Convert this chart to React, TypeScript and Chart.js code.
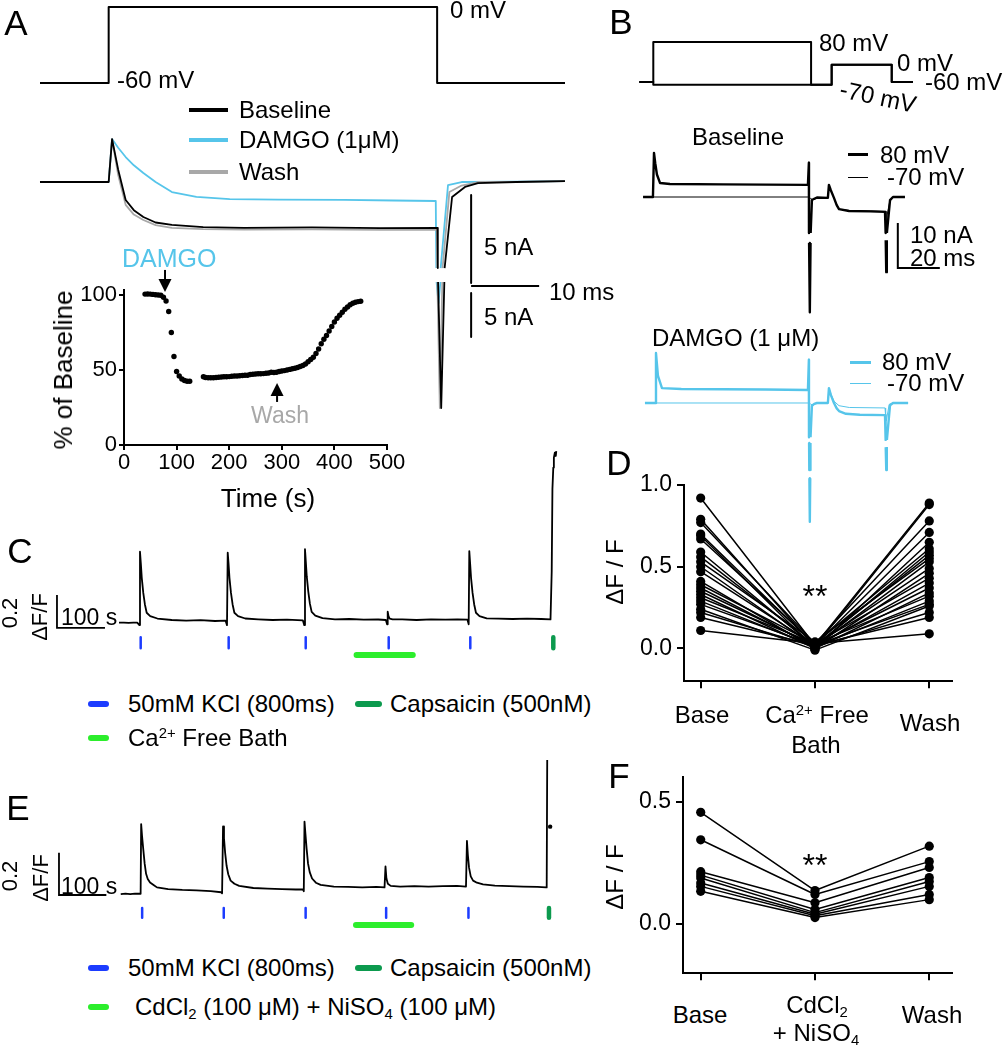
import React, { useEffect, useRef } from "react";
import { Chart, registerables } from "chart.js";

Chart.register(...registerables);

const FONT = "'Liberation Sans', Arial, Helvetica, sans-serif";
Chart.defaults.font.family = FONT;
Chart.defaults.color = "#000";

// ---------------- colours ----------------
const BLACK = "#000000";
const CYAN = "#56c5ea";
const GRAY = "#a8a8a8";
const BLUE = "#1c3cff";
const DKGREEN = "#0c9a4e";
const LTGREEN = "#2cee2c";

// ---------------- Panel A : voltage step (ms, mV) ----------------
const aStepTime = [0, 10.1, 10.1, 58.4, 58.4, 77.2];
const aStepMv = [-60, -60, 0, 0, -60, -60];

// ---------------- Panel A : currents (ms, nA) ----------------
const aBaseT = [0, 10.1, 10.6, 11.5, 12.6, 13.8, 15.2, 17, 19.4, 24, 30, 40, 50, 58.45, 58.5, 58.52, 58.54, 59.0, 59.46, 59.48, 59.5, 60.6, 62.5, 64.4, 70, 77.2];
const aBaseI = [0, 0, 2.44, 0.7, -1.02, -1.6, -1.99, -2.3, -2.44, -2.56, -2.6, -2.58, -2.62, -2.6, -4.89, null, -5.68, -12.84, -5.68, null, -4.89, -0.85, -0.28, -0.06, 0, 0.05];
const aWashT = [0, 10.1, 10.6, 11.5, 12.6, 13.8, 15.2, 17, 19.4, 24, 30, 40, 50, 58.35, 58.4, 58.42, 58.44, 58.8, 59.16, 59.18, 59.2, 60.2, 62, 64.4, 70, 77.2];
const aWashI = [0, 0, 2.44, 0.4, -1.3, -1.85, -2.16, -2.45, -2.61, -2.68, -2.7, -2.69, -2.72, -2.7, -4.89, null, -5.68, -12.84, -5.68, null, -4.89, -0.57, -0.2, 0, 0, 0.05];
const aDamgoT = [0, 10.1, 10.6, 11.5, 12.6, 13.8, 15.2, 17, 19.4, 23, 27.9, 35, 44.7, 52, 58.2, 58.28, 58.3, 58.32, 58.6, 58.88, 58.9, 58.92, 60.0, 62, 70, 77.2];
const aDamgoI = [0, 0, 2.44, 1.95, 1.42, 0.95, 0.51, 0.0, -0.57, -0.85, -0.97, -1.0, -1.02, -1.05, -1.08, -4.89, null, -5.68, -6.88, -5.68, null, -4.89, -0.17, 0, 0.02, 0.05];
const aScaleBar = { t0: 63.4, dt: 10, top: -0.74, dI: 5, hLevel: -5.91, lowTop: -6.31, lowDI: 2.5 };

// ---------------- Panel A inset : % of baseline vs time (s) ----------------
const insetTime = [40, 45, 50, 55, 60, 65, 70, 75, 80, 85, 90, 95, 100, 105, 110, 115, 120, 125,
  151, 155, 160, 165, 170, 175, 180, 185, 190, 195, 200, 205, 210, 215, 220, 225, 230, 235, 240, 245, 250,
  255, 260, 265, 270, 275, 280, 285, 290, 295, 300, 305, 310, 315, 320, 325, 330, 335, 340, 345, 350, 355,
  360, 365, 370, 375, 380, 385, 390, 395, 400, 405, 410, 415, 420, 425, 430, 435, 440, 445, 450];
const insetPct = [100.6, 100.7, 100.6, 100.4, 100.2, 100, 99.8, 98.5, 96, 89, 75, 59, 49, 46, 44, 43, 42.5, 42.5,
  45.5, 45, 44.8, 44.8, 44.8, 45, 45.2, 45.3, 45.5, 45.5, 45.6, 45.8, 46, 46, 46.2, 46.3, 46.5, 46.5, 47, 47.2, 47.3,
  47.5, 47.5, 47.6, 47.8, 48, 48.5, 48.3, 48.5, 49, 49.3, 49.6, 50, 50.4, 50.8, 51.2, 51.7, 52.3, 53, 54, 55.5, 57,
  58.5, 61, 64, 67.5, 70.5, 73, 76, 79, 82, 84.5, 86.5, 88.5, 90.5, 92, 93.5, 94.5, 95.2, 95.6, 95.8];
const insetXTicks = [0, 100, 200, 300, 400, 500];
const insetYTicks = [0, 50, 100];
const insetArrowT = [78, 291];
const insetArrowFrom = [116.7, 28.7];
const insetArrowTo = [102, 41.3];

// ---------------- Panel B : protocol (ms, mV) ----------------
const bProtoT = [0, 6.67, 6.67, 81.8, 81.8, 91.6, 91.6, 120.2, 120.2, 130.3];
const bProto80 = [-60, -60, 80, 80, -70, -70, 0, 0, -60, -60];
const bProtoM70 = [-60, -60, -70, -70, -70, -70, 0, 0, -60, -60];

// ---------------- Panel B : baseline currents (ms, nA) ----------------
const bThickT = [1.8, 6.5, 7.0, 7.6, 8.4, 9.9, 14.6, 40, 80.3, 80.75, 80.8, 80.82, 80.85, 81.2, 81.55, 81.58, 81.6, 82.2, 83.3, 84.6, 89.8, 90.3, 91.2, 92.7, 94, 95.1, 99.9, 110, 117.0, 117.3, 117.32, 117.34, 117.6, 117.86, 117.88, 117.9, 119.4, 120.8, 126.5];
const bThickI = [0, 0, 9.8, 7.5, 5.0, 3.1, 2.9, 2.8, 2.7, 7.6, -8.0, null, -10.2, -25.6, -10.2, null, -8.0, -0.67, -0.4, -0.1, -0.2, 2.7, 1.5, -0.2, -1.8, -2.7, -3.1, -3.2, -3.3, -8.0, null, -9.6, -16.7, -9.6, null, -8.0, -0.7, 0, 0];
const bThinT = [1.8, 80.3, 81.5, 82.5, 84.6, 89.8, 90.3, 91.2, 92.7, 94, 95.1, 99.9, 110, 117.0, 117.3, 117.6, 118.0, 119.4, 120.8, 126.5];
const bThinI = [0, 0, -0.3, -0.6, -0.1, -0.2, 2.7, 1.5, -0.2, -1.8, -2.7, -3.0, -3.1, -3.2, -6, -8, -4, -0.7, 0, 0];
const bScaleBar = { t0: 123.1, dt: 20, i0: -15.78, dI: 10 };

// ---------------- Panel B : DAMGO currents (ms, nA) ----------------
const bDThickT = [2.7, 7.5, 7.95, 8.9, 10.8, 20, 60, 80.3, 80.75, 80.8, 80.82, 80.85, 80.95, 80.97, 81.0, 81.2, 81.4, 81.43, 81.45, 81.5, 81.53, 81.55, 82.2, 83.3, 84.6, 89.8, 90.3, 91.2, 92.7, 94, 95.1, 98.4, 105, 117.0, 117.3, 117.32, 117.34, 117.6, 117.86, 117.88, 117.9, 119.4, 120.8, 128];
const bDThickI = [0, 0, 11.1, 6, 3.3, 3.1, 3.0, 2.9, 9.6, -7.6, null, -8.9, -14.9, null, -16.7, -26.4, -16.7, null, -14.9, -8.9, null, -7.6, -0.6, -0.2, 0, 0, 3.3, 1.8, 0, -1.2, -1.8, -2.4, -2.6, -2.7, -8.2, null, -9.8, -14.9, -9.8, null, -8.2, -0.5, 0, 0];
const bDThinT = [2.7, 80.3, 81.5, 82.5, 84.6, 89.8, 90.3, 91.2, 92.7, 95.1, 100, 117.0, 117.3, 117.6, 119, 120.8, 128];
const bDThinI = [0, 0, -0.2, -0.5, 0, 0, 3.3, 2.0, 0.4, -0.6, -1.0, -1.1, -3, -4, -0.3, 0, 0];

// ---------------- Panel C : Ca imaging (s, dF/F) ----------------
const cTime = [0, 10, 20, 30, 38, 42.5, 43.75, 45.5, 47.5, 50.6, 54, 57.7, 65, 80, 110, 140, 170, 200, 222, 225, 226.5, 228.2, 230.2, 233.3, 236.7, 240.4, 248, 263, 290, 320, 350, 383, 386, 387.5, 389.2, 391.2, 394.3, 397.7, 401.4, 409, 424, 450, 480, 510, 540, 556, 558.5, 559.8, 561.5, 564, 570, 590, 620, 650, 680, 705, 726, 728.5, 729.8, 731.5, 733.5, 736.6, 740, 743.7, 751, 766, 790, 820, 850, 880, 899, 901.5, 903, 904.8, 906, 908, 910, 911];
const cDff = [-0.01, -0.01, -0.012, -0.01, -0.01, -0.025, 0.42, 0.35, 0.26, 0.17, 0.1, 0.05, 0.03, 0.015, 0.006, 0.002, 0.005, 0.0, 0.002, -0.025, 0.414, 0.35, 0.26, 0.17, 0.1, 0.05, 0.03, 0.015, 0.01, 0.006, 0.008, 0.004, -0.025, 0.435, 0.36, 0.27, 0.18, 0.105, 0.055, 0.033, 0.018, 0.01, 0.012, 0.008, 0.009, 0.006, -0.02, 0.056, 0.03, 0.015, 0.01, 0.01, 0.006, 0.01, 0.008, 0.01, 0.008, -0.02, 0.424, 0.35, 0.26, 0.17, 0.1, 0.05, 0.03, 0.016, 0.014, 0.012, 0.014, 0.012, 0.01, 0.3, 0.8, 0.93, 0.99, 1.02, 1.0, 1.03];
const cKclTimes = [45.2, 228.5, 389, 561.9, 731.9];
const cCapsTimes = [904.8];
const cBathSpan = [495, 612];
const cScaleBar = { t0: -129.2, dt: 100, v0: -0.042, dv: 0.2 };

// ---------------- Panel E : Ca imaging (s, dF/F) ----------------
const eTime = [0, 10, 20, 30, 40, 42, 43.1, 45, 47.7, 50.5, 53.5, 57, 61.9, 70, 76.5, 100, 130, 160, 190, 212, 214, 216, 218, 220.5, 223.5, 227, 232, 240, 250, 280, 310, 340, 370, 384.8, 386.5, 388, 390, 392.5, 395.5, 399, 404, 412, 422, 450, 480, 510, 540, 557, 559, 561, 564, 570, 590, 620, 650, 680, 710, 729, 731, 733, 735.5, 739, 744, 752, 765, 790, 820, 850, 880, 898, 899.4, 900.5];
const eDff = [-0.014, -0.012, -0.014, -0.012, -0.012, -0.012, 0.317, 0.26, 0.195, 0.13, 0.082, 0.058, 0.041, 0.028, 0.018, 0.01, 0.006, 0.004, 0.0, -0.005, -0.01, 0.306, 0.25, 0.18, 0.12, 0.08, 0.05, 0.035, 0.025, 0.015, 0.012, 0.01, 0.008, 0.008, 0.0, 0.329, 0.27, 0.2, 0.13, 0.09, 0.06, 0.04, 0.03, 0.022, 0.02, 0.018, 0.02, 0.018, 0.117, 0.06, 0.035, 0.025, 0.022, 0.024, 0.022, 0.024, 0.025, 0.022, 0.238, 0.17, 0.11, 0.07, 0.05, 0.04, 0.032, 0.026, 0.024, 0.022, 0.02, 0.018, 0.02, 0.62];
const eDotTime = [906.7];
const eDotDff = [0.305];
const eKclTimes = [45.2, 217.5, 390.4, 560.4, 734.2];
const eCapsTimes = [904.2];
const eBlockSpan = [496.7, 613.3];
const eScaleBar = { t0: -130.4, dt: 100, v0: -0.018, dv: 0.2 };

// ---------------- Panel D : paired dF/F ----------------
const dBase = [0.92, 0.79, 0.77, 0.70, 0.69, 0.67, 0.59, 0.56, 0.53, 0.50, 0.47, 0.41, 0.39, 0.37, 0.35, 0.33, 0.31, 0.29, 0.27, 0.24, 0.22, 0.19, 0.11];
const dCaFree = [0.02, 0.01, 0.03, 0.02, 0.0, 0.03, 0.01, 0.02, 0.04, 0.01, 0.02, 0.0, 0.03, 0.01, 0.02, 0.0, 0.03, 0.01, 0.02, -0.01, 0.01, 0.02, 0.03];
const dWash = [0.89, 0.88, 0.78, 0.71, 0.65, 0.61, 0.59, 0.57, 0.55, 0.53, 0.49, 0.46, 0.43, 0.40, 0.37, 0.34, 0.32, 0.29, 0.27, 0.26, 0.22, 0.19, 0.09];
const dYTicks = [0, 0.5, 1.0];

// ---------------- Panel F : paired dF/F ----------------
const fBase = [0.456, 0.344, 0.214, 0.200, 0.188, 0.168, 0.154, 0.134];
const fCd = [0.137, 0.121, 0.087, 0.060, 0.047, 0.040, 0.034, 0.027];
const fWash = [0.318, 0.255, 0.231, 0.190, 0.174, 0.154, 0.121, 0.100];
const fYTicks = [0, 0.5];
const groupX = [0, 1, 2];

// ---------------- helpers ----------------
type P = { x: number; y: number | null };
const pts = (xs: number[], ys: (number | null)[]): P[] => xs.map((x, i) => ({ x, y: ys[i] }));

function lineDs(data: P[], color: string, width: number, extra: any = {}) {
  return {
    type: "line",
    data,
    borderColor: color,
    backgroundColor: color,
    borderWidth: width,
    pointRadius: 0,
    tension: 0,
    fill: false,
    spanGaps: false,
    borderJoinStyle: "round",
    ...extra,
  };
}

function eventTicks(times: number[], lo: number, hi: number): P[] {
  const out: P[] = [];
  times.forEach((t) => {
    out.push({ x: t, y: hi }, { x: t, y: lo }, { x: t, y: null });
  });
  return out;
}

function basePlugins() {
  return { legend: { display: false }, tooltip: { enabled: false }, title: { display: false } };
}

function traceOptions(xr: number[], yr: number[]) {
  return {
    animation: false,
    responsive: false,
    maintainAspectRatio: false,
    events: [],
    layout: { padding: 0 },
    plugins: basePlugins(),
    scales: {
      x: { type: "linear", display: false, min: xr[0], max: xr[1] },
      y: { type: "linear", display: false, min: yr[0], max: yr[1] },
    },
  };
}

function axisOptions(o: any) {
  const tickFont = { family: FONT, size: o.font };
  const grid = {
    display: true,
    drawOnChartArea: false,
    drawTicks: true,
    tickLength: o.tick,
    tickWidth: 2,
    tickColor: "#000",
    color: "#000",
    lineWidth: 2,
  };
  return {
    animation: false,
    responsive: false,
    maintainAspectRatio: false,
    events: [],
    layout: { padding: o.padding },
    plugins: basePlugins(),
    scales: {
      x: {
        type: "linear",
        min: o.x[0],
        max: o.x[1],
        afterBuildTicks: (s: any) => {
          s.ticks = o.xTicks.map((v: number) => ({ value: v }));
        },
        afterFit: (s: any) => {
          s.height = o.xHeight;
        },
        ticks: { display: o.xLabels, font: tickFont, color: "#000", padding: 0, maxRotation: 0, autoSkip: false },
        grid,
        border: { display: true, color: "#000", width: 2 },
      },
      y: {
        type: "linear",
        min: o.y[0],
        max: o.y[1],
        afterBuildTicks: (s: any) => {
          s.ticks = o.yTicks.map((v: number) => ({ value: v }));
        },
        afterFit: (s: any) => {
          s.width = o.yWidth;
        },
        ticks: {
          font: tickFont,
          color: "#000",
          padding: o.yPad,
          autoSkip: false,
          callback: o.yFmt || ((v: any) => String(v)),
        },
        grid,
        border: { display: true, color: "#000", width: 2 },
      },
    },
  };
}

const arrowPlugin = {
  id: "insetArrows",
  afterDatasetsDraw(chart: any) {
    const { ctx, scales } = chart;
    ctx.save();
    ctx.strokeStyle = "#000";
    ctx.fillStyle = "#000";
    ctx.lineWidth = 2;
    insetArrowT.forEach((t, i) => {
      const x = scales.x.getPixelForValue(t);
      const y0 = scales.y.getPixelForValue(insetArrowFrom[i]);
      const y1 = scales.y.getPixelForValue(insetArrowTo[i]);
      const dir = Math.sign(y1 - y0);
      const head = 13;
      ctx.beginPath();
      ctx.moveTo(x, y0);
      ctx.lineTo(x, y1 - dir * head);
      ctx.stroke();
      ctx.beginPath();
      ctx.moveTo(x, y1);
      ctx.lineTo(x - 6.5, y1 - dir * head);
      ctx.lineTo(x + 6.5, y1 - dir * head);
      ctx.closePath();
      ctx.fill();
    });
    ctx.restore();
  },
};

// ---------------- chart builders ----------------
const buildAVolt = () => ({
  type: "line",
  data: { datasets: [lineDs(pts(aStepTime, aStepMv), BLACK, 2)] },
  options: traceOptions([-5.88, 82.35], [-73.42, 5.53]),
});

const buildACurr = () => {
  const b = aScaleBar;
  const bar: P[] = [
    { x: b.t0, y: b.top }, { x: b.t0, y: b.top - b.dI }, { x: b.t0, y: null },
    { x: b.t0, y: b.hLevel }, { x: b.t0 + b.dt, y: b.hLevel }, { x: b.t0 + b.dt, y: null },
    { x: b.t0, y: b.lowTop }, { x: b.t0, y: b.lowTop - b.lowDI },
  ];
  return {
    type: "line",
    data: {
      datasets: [
        lineDs(pts(aBaseT, aBaseI), BLACK, 1.8),
        lineDs(pts(aWashT, aWashI), GRAY, 1.8),
        lineDs(pts(aDamgoT, aDamgoI), CYAN, 1.8),
        lineDs(bar, BLACK, 2, { borderCapStyle: "butt" }),
      ],
    },
    options: traceOptions([-5.88, 82.35], [-14.09, 4.66]),
  };
};

const buildInset = () => ({
  type: "line",
  data: {
    datasets: [
      lineDs(pts(insetTime, insetPct), BLACK, 0, {
        showLine: false,
        pointRadius: 2.7,
        pointBorderWidth: 0,
        pointBackgroundColor: BLACK,
      }),
    ],
  },
  options: axisOptions({
    x: [0, 500],
    y: [0, 103.33],
    xTicks: insetXTicks,
    yTicks: insetYTicks,
    xHeight: 75,
    yWidth: 84,
    font: 22,
    tick: 5,
    yPad: 2,
    xLabels: true,
    padding: { top: 30, right: 23, left: 0, bottom: 0 },
  }),
  plugins: [arrowPlugin],
});

const buildBProto = () => ({
  type: "line",
  data: {
    datasets: [
      lineDs(pts(bProtoT, bProto80), BLACK, 2),
      lineDs(pts(bProtoT, bProtoM70), BLACK, 2),
    ],
  },
  options: traceOptions([-18.71, 174.14], [-193, 227]),
});

const buildBBase = () => {
  const b = bScaleBar;
  const bar: P[] = [
    { x: b.t0, y: b.i0 + b.dI }, { x: b.t0, y: b.i0 }, { x: b.t0 + b.dt, y: b.i0 },
  ];
  return {
    type: "line",
    data: {
      datasets: [
        lineDs(pts(bThickT, bThickI), BLACK, 2.4),
        lineDs(pts(bThinT, bThinI), BLACK, 1),
        lineDs(bar, BLACK, 2, { borderJoinStyle: "miter" }),
      ],
    },
    options: traceOptions([-18.71, 174.14], [-27.33, 17.11]),
  };
};

const buildBDamgo = () => ({
  type: "line",
  data: {
    datasets: [
      lineDs(pts(bDThickT, bDThickI), CYAN, 2.4),
      lineDs(pts(bDThinT, bDThinI), CYAN, 1),
    ],
  },
  options: traceOptions([-18.71, 174.14], [-28.22, 18.44]),
});

function imagingChart(o: any) {
  const s = o.bar;
  const bar: P[] = [
    { x: s.t0, y: s.v0 + s.dv }, { x: s.t0, y: s.v0 }, { x: s.t0 + s.dt, y: s.v0 },
  ];
  const datasets: any[] = [
    lineDs(pts(o.t, o.v), BLACK, 1.8),
    lineDs(eventTicks(o.kcl, o.markLo, o.markHi), BLUE, 2.5, { borderCapStyle: "butt" }),
    lineDs(eventTicks(o.caps, o.markLo, o.markHi), DKGREEN, 4.5, { borderCapStyle: "butt" }),
    lineDs(pts(o.span, [o.spanLevel, o.spanLevel]), LTGREEN, 6, { borderCapStyle: "round" }),
    lineDs(bar, BLACK, 1.8, { borderJoinStyle: "miter" }),
  ];
  if (o.dotT) {
    datasets.push(
      lineDs(pts(o.dotT, o.dotV), BLACK, 0, { showLine: false, pointRadius: 2.2, pointBorderWidth: 0, pointBackgroundColor: BLACK })
    );
  }
  return { type: "line", data: { datasets }, options: traceOptions(o.xr, o.yr) };
}

const buildC = () =>
  imagingChart({
    t: cTime, v: cDff, kcl: cKclTimes, caps: cCapsTimes, span: cBathSpan,
    markLo: -0.165, markHi: -0.099, spanLevel: -0.206, bar: cScaleBar,
    xr: [-247.9, 1002.1], yr: [-0.297, 1.097],
  });

const buildE = () =>
  imagingChart({
    t: eTime, v: eDff, kcl: eKclTimes, caps: eCapsTimes, span: eBlockSpan,
    markLo: -0.126, markHi: -0.08, spanLevel: -0.16, bar: eScaleBar,
    dotT: eDotTime, dotV: eDotDff,
    xr: [-246.5, 1003.5], yr: [-0.259, 0.6955],
  });

function pairedChart(a: number[], b: number[], c: number[], o: any) {
  const datasets = a.map((_, i) =>
    lineDs(pts(groupX, [a[i], b[i], c[i]]), BLACK, 1.5, {
      pointRadius: 4.6,
      pointBorderWidth: 0,
      pointBackgroundColor: BLACK,
    })
  );
  return {
    type: "line",
    data: { datasets },
    options: axisOptions({
      x: o.x,
      y: o.y,
      xTicks: groupX,
      yTicks: o.yTicks,
      xHeight: o.xHeight,
      yWidth: o.yWidth,
      font: 23,
      tick: 7,
      yPad: 5,
      xLabels: false,
      yFmt: (v: any) => Number(v).toFixed(1),
      padding: { top: 20, right: 28, left: 0, bottom: 0 },
    }),
  };
}

const buildD = () =>
  pairedChart(dBase, dCaFree, dWash, { x: [-0.146, 2.199], y: [-0.2, 1.0], yTicks: dYTicks, xHeight: 14, yWidth: 84 });

const buildF = () =>
  pairedChart(fBase, fCd, fWash, { x: [-0.155, 2.199], y: [-0.2, 0.6], yTicks: fYTicks, xHeight: 15, yWidth: 83 });

// ---------------- components ----------------
function Plot({ left, top, width, height, build }: any) {
  const ref = useRef<HTMLCanvasElement | null>(null);
  useEffect(() => {
    const chart = new Chart(ref.current as HTMLCanvasElement, build());
    return () => chart.destroy();
  }, []);
  return (
    <canvas
      ref={ref}
      width={width}
      height={height}
      style={{ position: "absolute", left, top, width, height }}
    />
  );
}

function Txt({ x, y, size = 24, color = "#000", align = "left", rotate = 0, children }: any) {
  const tx = align === "left" ? "0" : align === "center" ? "-50%" : "-100%";
  return (
    <div
      style={{
        position: "absolute",
        left: x,
        top: y,
        transform: `translate(${tx}, -50%) rotate(${rotate}deg)`,
        fontSize: size,
        color,
        fontFamily: FONT,
        whiteSpace: "nowrap",
        lineHeight: 1,
      }}
    >
      {children}
    </div>
  );
}

function Swatch({ x1, x2, y, h, color, round = false }: any) {
  return (
    <div
      style={{
        position: "absolute",
        left: x1,
        top: y - h / 2,
        width: x2 - x1,
        height: h,
        background: color,
        borderRadius: round ? h / 2 : 0,
      }}
    />
  );
}

const supStyle: any = { fontSize: "0.62em", position: "relative", top: "-0.55em", verticalAlign: "baseline" };
const subStyle: any = { fontSize: "0.62em", position: "relative", top: "0.3em", verticalAlign: "baseline" };

export default function App() {
  return (
    <div
      style={{
        position: "absolute",
        left: 0,
        top: 0,
        width: 1005,
        height: 1050,
        background: "#fff",
        overflow: "hidden",
        fontFamily: FONT,
      }}
    >
      {/* charts */}
      <Plot left={0} top={0} width={600} height={100} build={buildAVolt} />
      <Plot left={0} top={100} width={600} height={330} build={buildACurr} />
      <Plot left={40} top={260} width={370} height={260} build={buildInset} />
      <Plot left={600} top={0} width={405} height={120} build={buildBProto} />
      <Plot left={600} top={120} width={405} height={200} build={buildBBase} />
      <Plot left={600} top={320} width={405} height={210} build={buildBDamgo} />
      <Plot left={0} top={440} width={600} height={230} build={buildC} />
      <Plot left={600} top={465} width={380} height={235} build={buildD} />
      <Plot left={0} top={740} width={600} height={210} build={buildE} />
      <Plot left={600} top={757} width={380} height={235} build={buildF} />

      {/* Panel A */}
      <Txt x={16} y={22} size={35} align="center">A</Txt>
      <Txt x={450} y={10}>0 mV</Txt>
      <Txt x={117} y={80}>-60 mV</Txt>
      <Swatch x1={189} x2={228} y={110} h={4} color={BLACK} />
      <Swatch x1={189} x2={228} y={140} h={4} color={CYAN} />
      <Swatch x1={189} x2={228} y={172} h={4} color={GRAY} />
      <Txt x={239} y={110}>Baseline</Txt>
      <Txt x={239} y={140}>DAMGO (1μM)</Txt>
      <Txt x={239} y={172}>Wash</Txt>
      <Txt x={484} y={247}>5 nA</Txt>
      <Txt x={549} y={292}>10 ms</Txt>
      <Txt x={484} y={317}>5 nA</Txt>
      <Txt x={122} y={258} size={25} color={CYAN}>DAMGO</Txt>
      <Txt x={280} y={415} size={23} color={GRAY} align="center">Wash</Txt>
      <Txt x={63} y={370} size={26} align="center" rotate={-90}>% of Baseline</Txt>
      <Txt x={268} y={498} size={26} align="center">Time (s)</Txt>

      {/* Panel B */}
      <Txt x={621} y={21} size={35} align="center">B</Txt>
      <Txt x={819} y={43}>80 mV</Txt>
      <Txt x={897} y={63}>0 mV</Txt>
      <Txt x={925} y={82}>-60 mV</Txt>
      <Txt x={878} y={97} align="center" rotate={12}>-70 mV</Txt>
      <Txt x={692} y={137}>Baseline</Txt>
      <Swatch x1={848} x2={868} y={154} h={3} color={BLACK} />
      <Swatch x1={848} x2={868} y={177} h={1} color={BLACK} />
      <Txt x={880} y={155}>80 mV</Txt>
      <Txt x={887} y={177}>-70 mV</Txt>
      <Txt x={910} y={235}>10 nA</Txt>
      <Txt x={910} y={258}>20 ms</Txt>
      <Txt x={652} y={338}>DAMGO (1 μM)</Txt>
      <Swatch x1={850} x2={871} y={362} h={3} color={CYAN} />
      <Swatch x1={850} x2={871} y={383} h={1} color={CYAN} />
      <Txt x={882} y={362}>80 mV</Txt>
      <Txt x={887} y={383}>-70 mV</Txt>

      {/* Panel C */}
      <Txt x={20} y={550} size={35} align="center">C</Txt>
      <Txt x={10} y={613} size={22} align="center" rotate={-90}>0.2</Txt>
      <Txt x={40} y={617} size={22} align="center" rotate={-90}>ΔF/F</Txt>
      <Txt x={61} y={617} size={23}>100 s</Txt>
      <Swatch x1={88} x2={109} y={704} h={6} color={BLUE} round />
      <Txt x={128} y={704}>50mM KCl (800ms)</Txt>
      <Swatch x1={355} x2={382} y={704} h={6} color={DKGREEN} round />
      <Txt x={390} y={704}>Capsaicin (500nM)</Txt>
      <Swatch x1={88} x2={109} y={738} h={6} color={LTGREEN} round />
      <Txt x={128} y={738}>
        Ca<span style={supStyle}>2+</span> Free Bath
      </Txt>

      {/* Panel D */}
      <Txt x={619} y={462} size={35} align="center">D</Txt>
      <Txt x={615} y={572} size={24} align="center" rotate={-90}>ΔF / F</Txt>
      <Txt x={815} y={596} size={32} align="center">**</Txt>
      <Txt x={702} y={715} align="center">Base</Txt>
      <Txt x={817} y={715} align="center">
        Ca<span style={supStyle}>2+</span> Free
      </Txt>
      <Txt x={816} y={745} align="center">Bath</Txt>
      <Txt x={930} y={723} align="center">Wash</Txt>

      {/* Panel E */}
      <Txt x={18} y={807} size={35} align="center">E</Txt>
      <Txt x={10} y={876} size={22} align="center" rotate={-90}>0.2</Txt>
      <Txt x={41} y={878} size={22} align="center" rotate={-90}>ΔF/F</Txt>
      <Txt x={61} y={886} size={23}>100 s</Txt>
      <Swatch x1={88} x2={109} y={968} h={6} color={BLUE} round />
      <Txt x={128} y={968}>50mM KCl (800ms)</Txt>
      <Swatch x1={355} x2={382} y={968} h={6} color={DKGREEN} round />
      <Txt x={390} y={968}>Capsaicin (500nM)</Txt>
      <Swatch x1={88} x2={109} y={1007} h={6} color={LTGREEN} round />
      <Txt x={135} y={1007}>
        CdCl<span style={subStyle}>2</span> (100 μM) + NiSO<span style={subStyle}>4</span> (100 μM)
      </Txt>

      {/* Panel F */}
      <Txt x={619} y={775} size={35} align="center">F</Txt>
      <Txt x={615} y={877} size={24} align="center" rotate={-90}>ΔF / F</Txt>
      <Txt x={815} y={865} size={32} align="center">**</Txt>
      <Txt x={700} y={1015} align="center">Base</Txt>
      <Txt x={817} y={1005} align="center">
        CdCl<span style={subStyle}>2</span>
      </Txt>
      <Txt x={816} y={1033} align="center">
        + NiSO<span style={subStyle}>4</span>
      </Txt>
      <Txt x={932} y={1015} align="center">Wash</Txt>
    </div>
  );
}
